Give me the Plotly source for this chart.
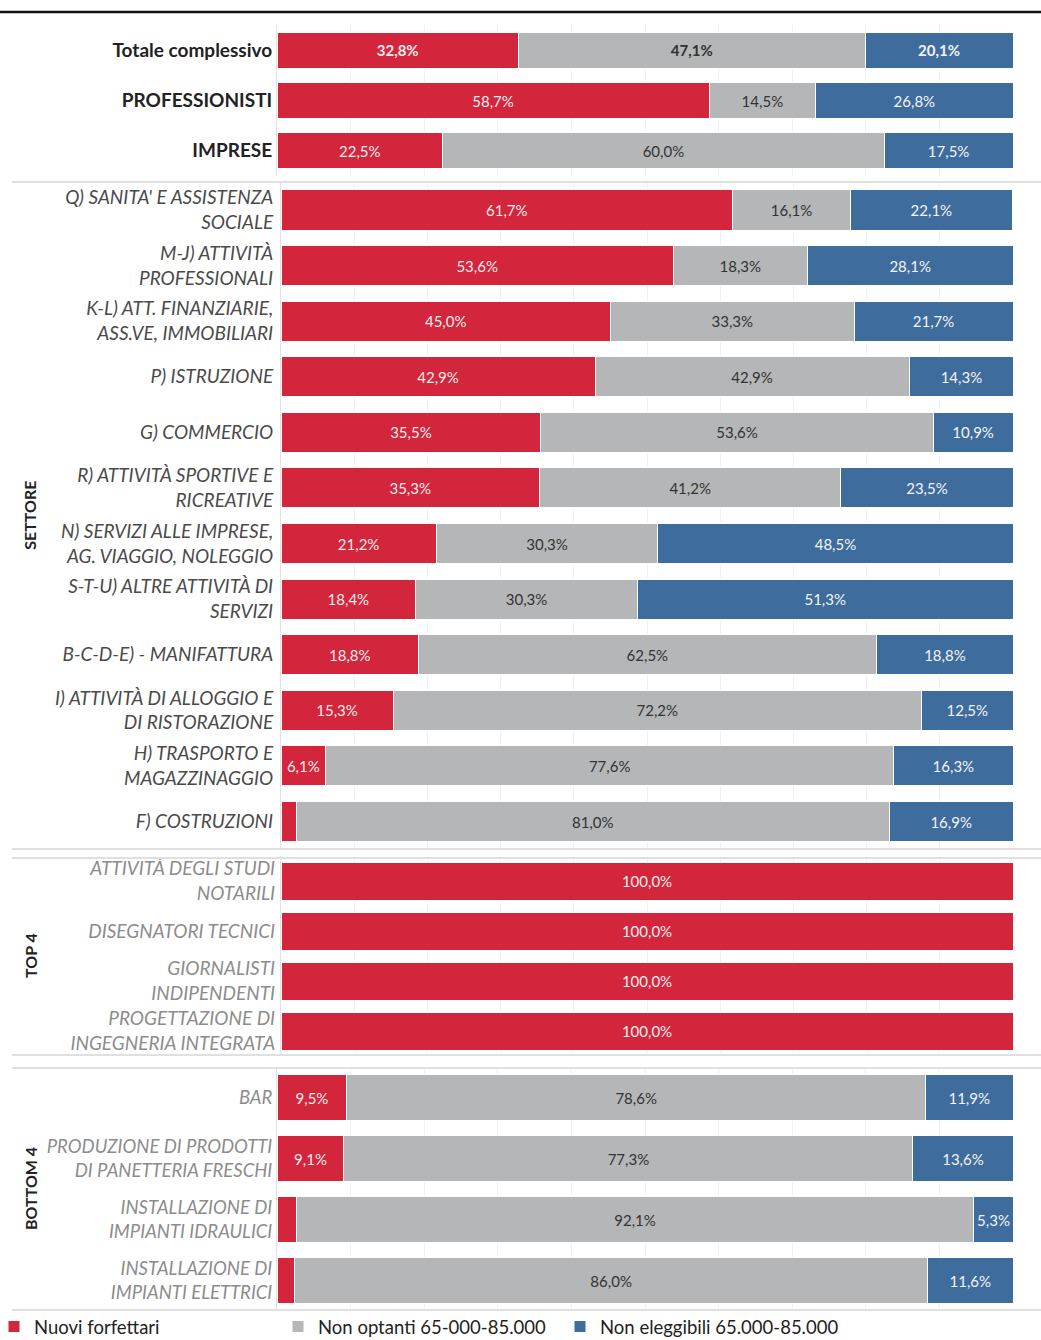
import plotly.graph_objects as go

# ---------------- DATA ----------------
series_names = ["Nuovi forfettari", "Non optanti 65-000-85.000", "Non eleggibili 65.000-85.000"]

sec1_labels = ["Totale complessivo", "PROFESSIONISTI", "IMPRESE"]
sec1_nuovi = [32.8, 58.7, 22.5]
sec1_nonopt = [47.1, 14.5, 60.0]
sec1_nonel = [20.1, 26.8, 17.5]

settore_labels = [
    "Q) SANITA' E ASSISTENZA<br>SOCIALE",
    "M-J) ATTIVITÀ<br>PROFESSIONALI",
    "K-L) ATT. FINANZIARIE,<br>ASS.VE, IMMOBILIARI",
    "P) ISTRUZIONE",
    "G) COMMERCIO",
    "R) ATTIVITÀ SPORTIVE E<br>RICREATIVE",
    "N) SERVIZI ALLE IMPRESE,<br>AG. VIAGGIO, NOLEGGIO",
    "S-T-U) ALTRE ATTIVITÀ DI<br>SERVIZI",
    "B-C-D-E) - MANIFATTURA",
    "I) ATTIVITÀ DI ALLOGGIO E<br>DI RISTORAZIONE",
    "H) TRASPORTO E<br>MAGAZZINAGGIO",
    "F) COSTRUZIONI",
]
settore_nuovi = [61.7, 53.6, 45.0, 42.9, 35.5, 35.3, 21.2, 18.4, 18.8, 15.3, 6.1, 2.1]
settore_nonopt = [16.1, 18.3, 33.3, 42.9, 53.6, 41.2, 30.3, 30.3, 62.5, 72.2, 77.6, 81.0]
settore_nonel = [22.1, 28.1, 21.7, 14.3, 10.9, 23.5, 48.5, 51.3, 18.8, 12.5, 16.3, 16.9]

top4_labels = [
    "ATTIVITÀ DEGLI STUDI<br>NOTARILI",
    "DISEGNATORI TECNICI",
    "GIORNALISTI<br>INDIPENDENTI",
    "PROGETTAZIONE DI<br>INGEGNERIA INTEGRATA",
]
top4_nuovi = [100.0, 100.0, 100.0, 100.0]
top4_nonopt = [0.0, 0.0, 0.0, 0.0]
top4_nonel = [0.0, 0.0, 0.0, 0.0]

bottom4_labels = [
    "BAR",
    "PRODUZIONE DI PRODOTTI<br>DI PANETTERIA FRESCHI",
    "INSTALLAZIONE DI<br>IMPIANTI IDRAULICI",
    "INSTALLAZIONE DI<br>IMPIANTI ELETTRICI",
]
bottom4_nuovi = [9.5, 9.1, 2.6, 2.4]
bottom4_nonopt = [78.6, 77.3, 92.1, 86.0]
bottom4_nonel = [11.9, 13.6, 5.3, 11.6]

group_titles = ["", "SETTORE", "TOP 4", "BOTTOM 4"]

# ---------------- STYLE ----------------
W, H = 1041, 1340
COLORS = ["#D3253B", "#B4B6B7", "#3E6C9D"]
TEXT_COLORS = ["#F7EDEE", "#333333", "#F2F4F7"]
FONT = "Lato"

def py(px):
    return 1 - px / H

def pxx(px):
    return px / W

sections = [
    dict(labels=sec1_labels, vals=[sec1_nuovi, sec1_nonopt, sec1_nonel],
         dom=(25, 176), xdom=(277, 1013), width=0.72,
         font=dict(family=FONT, size=19, color="#222222", weight="bold"), italic=False, standoff=0),
    dict(labels=settore_labels, vals=[settore_nuovi, settore_nonopt, settore_nonel],
         dom=(182.2, 849.3), xdom=(281, 1013), width=0.72,
         font=dict(family=FONT, size=19, color="#4A4A4A"), italic=True, standoff=3),
    dict(labels=top4_labels, vals=[top4_nuovi, top4_nonopt, top4_nonel],
         dom=(856, 1056), xdom=(281, 1013), width=0.76,
         font=dict(family=FONT, size=19, color="#8C8C8C"), italic=True, standoff=1),
    dict(labels=bottom4_labels, vals=[bottom4_nuovi, bottom4_nonopt, bottom4_nonel],
         dom=(1067, 1311), xdom=(277, 1013), width=0.74,
         font=dict(family=FONT, size=18.5, color="#8C8C8C"), italic=True, standoff=0),
]

def fmt(v, bold):
    if v < 3:
        return ""
    s = f"{v:.1f}".replace(".", ",") + "%"
    return f"<b>{s}</b>" if bold else s

fig = go.Figure()
layout = {}
legend_ids = ["legend", "legend2", "legend3"]

for si, sec in enumerate(sections):
    n = len(sec["labels"])
    ax = "" if si == 0 else str(si + 1)
    ids = list(range(n))
    for k in range(3):
        vals = sec["vals"][k]
        texts = [fmt(v, si == 0 and i == 0) for i, v in enumerate(vals)]
        fig.add_trace(go.Bar(
            x=vals, y=ids, orientation="h",
            name=series_names[k],
            marker=dict(color=COLORS[k], line=dict(color="white", width=1)),
            width=sec["width"],
            text=texts, texttemplate="%{text}",
            textposition="inside", insidetextanchor="middle",
            textangle=0, constraintext="none",
            textfont=dict(family=FONT, size=15, color=TEXT_COLORS[k]),
            xaxis="x" + ax, yaxis="y" + ax,
            legend=legend_ids[k], showlegend=(si == 0),
            legendgroup=series_names[k], hoverinfo="skip",
        ))
    if sec["italic"]:
        ticktext = ["<br>".join("<i>" + part + "</i>" for part in l.split("<br>")) for l in sec["labels"]]
    else:
        ticktext = sec["labels"]
    layout["xaxis" + ax] = dict(
        domain=[pxx(sec["xdom"][0]), pxx(sec["xdom"][1])],
        range=[0, 100], anchor="y" + ax, showticklabels=False,
        showgrid=True, gridcolor="#F1F1F1", gridwidth=1, dtick=10,
        zeroline=False, fixedrange=True,
    )
    layout["yaxis" + ax] = dict(
        domain=[py(sec["dom"][1]), py(sec["dom"][0])],
        range=[n - 0.5, -0.5], anchor="x" + ax,
        tickmode="array", tickvals=ids, ticktext=ticktext,
        tickfont=sec["font"], ticks="", ticklabelstandoff=sec["standoff"],
        showgrid=False, zeroline=False, showline=True, linecolor="#E2E2E2", linewidth=1,
        fixedrange=True,
    )

fig.update_layout(**layout)

# group titles
annotations = []
for si, t in enumerate(group_titles):
    if not t:
        continue
    d0, d1 = sections[si]["dom"]
    annotations.append(dict(
        text=t, x=pxx(30), y=py((d0 + d1) / 2), xref="paper", yref="paper",
        textangle=-90, showarrow=False, xanchor="center", yanchor="middle",
        font=dict(family=FONT, size=16, color="#222222", weight="bold"),
    ))

# separators
shapes = [dict(type="line", xref="paper", yref="paper", x0=0, x1=1, y0=py(12), y1=py(12),
               line=dict(color="#111111", width=2.5))]
for ypx in [182, 849, 858, 1055, 1068, 1310]:
    shapes.append(dict(type="line", xref="paper", yref="paper", x0=pxx(12), x1=1,
                       y0=py(ypx), y1=py(ypx), line=dict(color="#E0E0E0", width=2)))

legend_x = [-6, 278, 560]
leg = {}
for k, lid in enumerate(legend_ids):
    leg[lid] = dict(x=pxx(legend_x[k]), y=py(1327), xanchor="left", yanchor="middle",
                    orientation="h", bgcolor="rgba(0,0,0,0)",
                    font=dict(family=FONT, size=18.5, color="#222222"))

fig.update_layout(
    width=W, height=H, margin=dict(l=0, r=0, t=0, b=0, autoexpand=False),
    paper_bgcolor="white", plot_bgcolor="white",
    barmode="stack", annotations=annotations, shapes=shapes,
    font=dict(family=FONT), **leg,
)

fig.write_html("out.html", config={"displayModeBar": False},
               post_script="document.body.style.margin='0';document.body.style.overflow='hidden';")
